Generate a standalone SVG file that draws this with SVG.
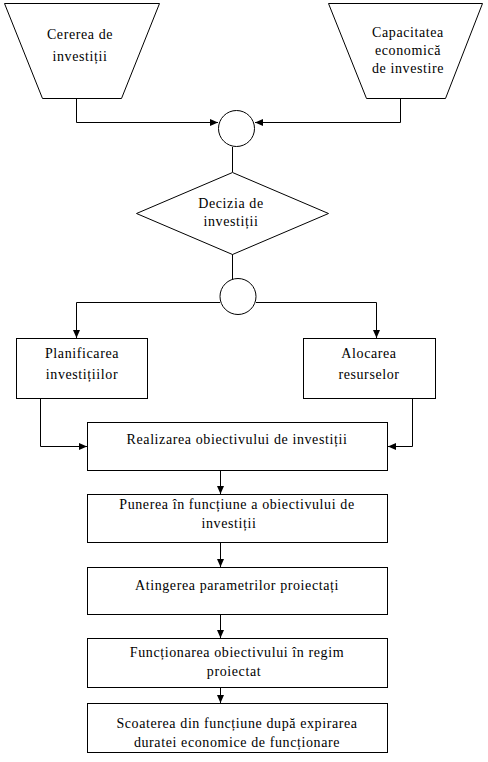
<svg xmlns="http://www.w3.org/2000/svg" width="488" height="762" viewBox="0 0 488 762">
<style>
.s{fill:#fff;stroke:#000;stroke-width:1}
.c{fill:none;stroke:#000;stroke-width:1}
text{font-family:'Liberation Serif','DejaVu Serif',serif;font-size:14px;letter-spacing:0.6px;fill:#000;text-anchor:middle}
</style>
<defs>
<marker id="a" viewBox="0 0 8 8" refX="8" refY="4" markerWidth="8" markerHeight="8" markerUnits="userSpaceOnUse" orient="auto">
<path d="M0,0.5 L8,4 L0,7.5 Z" fill="#000"/>
</marker>
</defs>
<rect width="488" height="762" fill="#fff"/>
<g id="connectors">
<path class="c" d="M76.5,98 V122.5 H218" marker-end="url(#a)"/>
<path class="c" d="M400.5,98 V122.5 H255" marker-end="url(#a)"/>
<path class="c" d="M232.5,147 V172"/>
<path class="c" d="M232.5,254 V279"/>
<path class="c" d="M220,302.5 H76.5 V338" marker-end="url(#a)"/>
<path class="c" d="M256,302.5 H376.5 V338" marker-end="url(#a)"/>
<path class="c" d="M40.5,398 V446.5 H87" marker-end="url(#a)"/>
<path class="c" d="M412.5,398 V446.5 H388" marker-end="url(#a)"/>
<path class="c" d="M220.5,470 V494" marker-end="url(#a)"/>
<path class="c" d="M220.5,542 V567" marker-end="url(#a)"/>
<path class="c" d="M220.5,614 V638" marker-end="url(#a)"/>
<path class="c" d="M220.5,687 V703" marker-end="url(#a)"/>
</g>
<g id="cererea">
<path class="s" d="M4.5,3.5 H159.5 L121.5,98.5 H42.5 Z"/>
<text x="80" y="39">Cererea de</text>
<text x="80" y="61">investiții</text>
</g>
<g id="capacitatea">
<path class="s" d="M328.5,3.5 H482.5 L445.5,98.5 H366.5 Z"/>
<text x="408" y="37">Capacitatea</text>
<text x="408" y="55">economică</text>
<text x="408" y="73">de investire</text>
</g>
<g id="circle1">
<circle class="s" cx="236.5" cy="128.5" r="18"/>
</g>
<g id="decizia">
<path class="s" d="M232.5,172.5 L328.5,213.5 L232.5,254.5 L136.5,213.5 Z"/>
<text x="231" y="208">Decizia de</text>
<text x="231" y="226">investiții</text>
</g>
<g id="circle2">
<circle class="s" cx="238" cy="296.5" r="18"/>
</g>
<g id="planificarea">
<rect class="s" x="16.5" y="338.5" width="131" height="60"/>
<text x="82" y="358">Planificarea</text>
<text x="82" y="379">investițiilor</text>
</g>
<g id="alocarea">
<rect class="s" x="303.5" y="338.5" width="132" height="60"/>
<text x="369" y="358">Alocarea</text>
<text x="369" y="379">resurselor</text>
</g>
<g id="realizarea">
<rect class="s" x="87.5" y="422.5" width="300" height="48"/>
<text x="237" y="444">Realizarea obiectivului de investiții</text>
</g>
<g id="punerea">
<rect class="s" x="87.5" y="494.5" width="300" height="48"/>
<text x="237" y="509">Punerea în funcțiune a obiectivului de</text>
<text x="229" y="528">investiții</text>
</g>
<g id="atingerea">
<rect class="s" x="87.5" y="567.5" width="300" height="47"/>
<text x="237" y="590">Atingerea parametrilor proiectați</text>
</g>
<g id="functionarea">
<rect class="s" x="87.5" y="638.5" width="300" height="49"/>
<text x="237" y="657">Funcționarea obiectivului în regim</text>
<text x="234" y="676">proiectat</text>
</g>
<g id="scoaterea">
<rect class="s" x="87.5" y="703.5" width="300" height="49"/>
<text x="237" y="728">Scoaterea din funcțiune după expirarea</text>
<text x="237" y="747">duratei economice de funcționare</text>
</g>
</svg>
